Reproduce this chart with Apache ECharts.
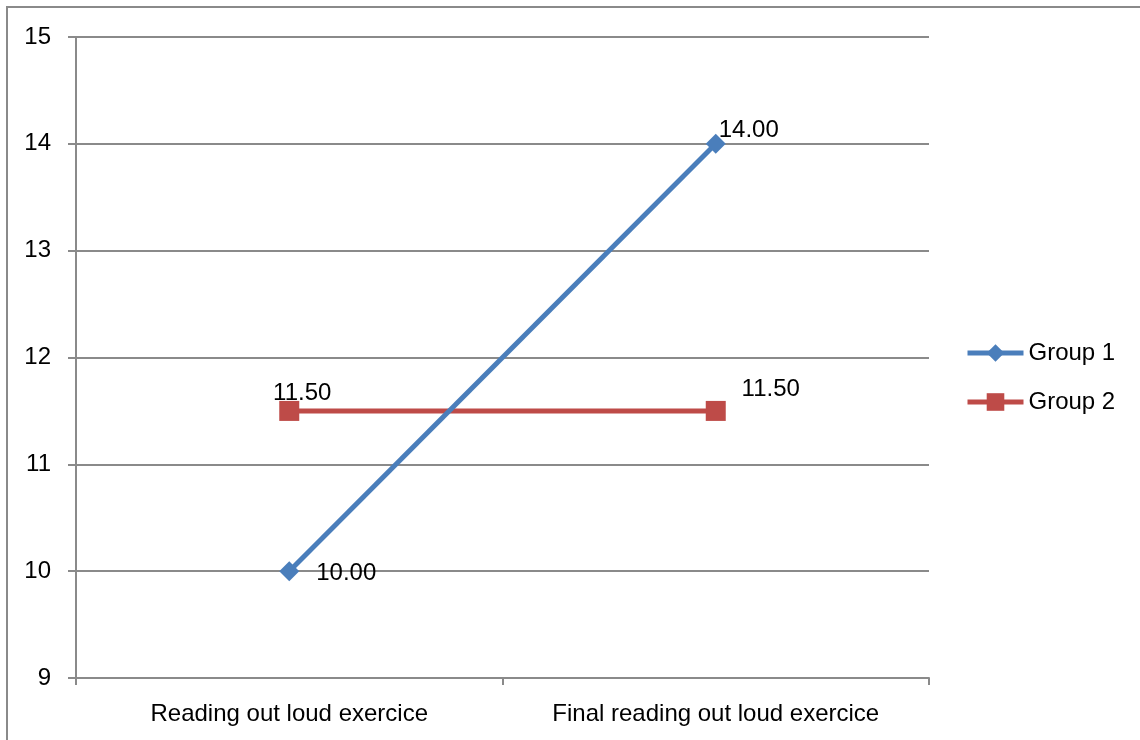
<!DOCTYPE html>
<html>
<head>
<meta charset="utf-8">
<script src="https://cdn.jsdelivr.net/npm/echarts@6/dist/echarts.min.js"></script>
<style>
  html, body { margin: 0; padding: 0; background: #fff; }
  #chart { width: 1140px; height: 740px; }
</style>
</head>
<body>
<div id="chart"></div>
<script>
// Exercise names and group means
const categories = ['Reading out loud exercice', 'Final reading out loud exercice'];
const group1 = [10.00, 14.00];
const group2 = [11.50, 11.50];
const seriesNames = ['Group 1', 'Group 2'];

const FONT = '"Liberation Sans", Arial, sans-serif';
const GRID_COLOR = '#8a8a8a';
const BLUE = '#4a7ebb';
const RED = '#be4b48';

const chart = echarts.init(document.getElementById('chart'));

const labelBase = {
  show: true,
  color: '#000',
  fontFamily: FONT,
  fontSize: 24,
  formatter: p => Number(p.value).toFixed(2)
};

// label offsets per point: [series][point]
const labelPlacement = [
  [{ position: 'right', offset: [17, 2] }, { position: 'right', offset: [-7, -13] }],
  [{ position: 'top', offset: [13, 4] }, { position: 'top', offset: [55, 0] }]
];

function points(values, si) {
  return values.map((v, i) => ({
    value: v,
    label: Object.assign({ distance: 0 }, labelPlacement[si][i])
  }));
}

chart.setOption({
  animation: false,
  backgroundColor: '#fff',
  textStyle: { fontFamily: FONT },
  graphic: [{
    type: 'rect',
    shape: { x: 7, y: 7, width: 1300, height: 900 },
    style: { fill: 'none', stroke: '#8a8a8a', lineWidth: 2 },
    silent: true
  }],
  grid: { left: 76, right: 211, top: 37, bottom: 62, containLabel: false },
  legend: {
    orient: 'vertical',
    left: 960,
    top: 336,
    itemWidth: 56,
    itemHeight: 22,
    itemGap: 25,
    lineStyle: { width: 5 },
    textStyle: { fontFamily: FONT, fontSize: 24, color: '#000' },
    data: seriesNames
  },
  xAxis: {
    type: 'category',
    data: categories,
    boundaryGap: true,
    axisLine: { lineStyle: { color: GRID_COLOR, width: 2 } },
    axisTick: { show: true, length: 7, lineStyle: { color: GRID_COLOR, width: 2 } },
    axisLabel: { color: '#000', fontFamily: FONT, fontSize: 24, margin: 24 },
    splitLine: { show: false }
  },
  yAxis: {
    type: 'value',
    min: 9,
    max: 15,
    interval: 1,
    axisLine: { show: true, lineStyle: { color: GRID_COLOR, width: 2 } },
    axisTick: { show: true, length: 8, lineStyle: { color: GRID_COLOR, width: 2 } },
    axisLabel: { color: '#000', fontFamily: FONT, fontSize: 24, margin: 25 },
    splitLine: { show: true, lineStyle: { color: GRID_COLOR, width: 2 } }
  },
  series: [
    {
      name: seriesNames[0],
      type: 'line',
      data: points(group1, 0),
      symbol: 'diamond',
      symbolSize: 20,
      color: BLUE,
      lineStyle: { width: 5, color: BLUE },
      itemStyle: { color: BLUE },
      label: labelBase,
      z: 3
    },
    {
      name: seriesNames[1],
      type: 'line',
      data: points(group2, 1),
      symbol: 'rect',
      symbolSize: 20,
      color: RED,
      lineStyle: { width: 5, color: RED },
      itemStyle: { color: RED },
      label: labelBase,
      z: 2
    }
  ]
});
</script>
</body>
</html>
